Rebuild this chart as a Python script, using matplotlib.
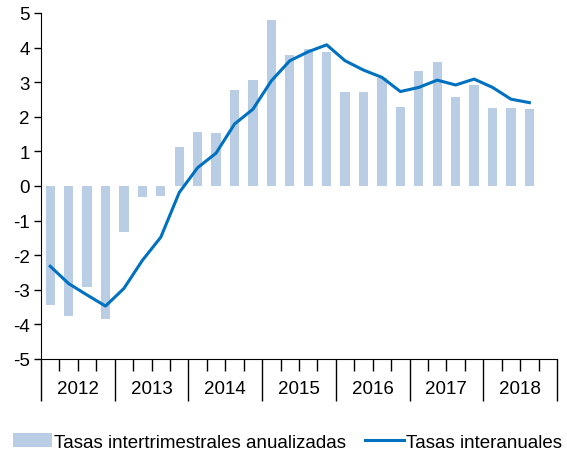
import numpy as np
import matplotlib
matplotlib.use("Agg")
import matplotlib.pyplot as plt
from matplotlib.ticker import MultipleLocator, NullFormatter
import matplotlib.transforms as mtransforms

plt.rcParams['font.family'] = ['Liberation Sans', 'DejaVu Sans']
plt.rcParams['axes.unicode_minus'] = False

# ------------------ datos ------------------
years = ["2012", "2013", "2014", "2015", "2016", "2017", "2018"]

# tasas intertrimestrales anualizadas (2012T1 - 2018T3)
quarterly = [-3.44, -3.75, -2.92, -3.84,
             -1.34, -0.33, -0.29, 1.14,
             1.57, 1.53, 2.78, 3.05,
             4.80, 3.80, 3.96, 3.88,
             2.73, 2.73, 3.11, 2.29,
             3.33, 3.57, 2.58, 2.92,
             2.26, 2.26, 2.22]

# tasas interanuales
annual = [-2.32, -2.82, -3.15, -3.47,
          -2.96, -2.15, -1.48, -0.19,
          0.53, 0.95, 1.79, 2.22,
          3.04, 3.62, 3.88, 4.08,
          3.62, 3.35, 3.14, 2.73,
          2.85, 3.06, 2.92, 3.09,
          2.85, 2.51, 2.41]

bar_color = "#B9CDE5"
line_color = "#0070C0"
fs = 13.5

# ------------------ gráfico ------------------
fig = plt.figure(figsize=(5.67, 4.60), dpi=100)
ax = fig.add_axes([41 / 567, 1 - 360 / 460, 516 / 567, 346 / 460])

x = np.arange(len(quarterly)) + 0.5
bars = ax.bar(x, quarterly, width=0.5, color=bar_color)
line, = ax.plot(x, annual, color=line_color, lw=2.2)

n_q = len(years) * 4
ax.set_xlim(0, n_q)
ax.set_ylim(-5, 5)
ax.yaxis.set_major_locator(MultipleLocator(1))

for s in ["top", "right"]:
    ax.spines[s].set_visible(False)

ax.xaxis.set_major_locator(MultipleLocator(4))
ax.xaxis.set_minor_locator(MultipleLocator(1))
ax.xaxis.set_major_formatter(NullFormatter())
ax.tick_params(axis="x", which="major", length=30, width=1.0, direction="out")
ax.tick_params(axis="x", which="minor", length=8.6, width=1.0, direction="out")
ax.tick_params(axis="y", length=5, width=1.0, labelsize=fs, pad=3)

trans = mtransforms.blended_transform_factory(ax.transData, ax.transAxes)
for i, yr in enumerate(years):
    ax.annotate(yr, xy=(i * 4 + 2, 0), xycoords=trans, xytext=(0, -21.5),
                textcoords="offset points", ha="center", va="center", fontsize=fs)

fig.legend([bars, line], ["Tasas intertrimestrales anualizadas", "Tasas interanuales"],
           loc="center", bbox_to_anchor=(0.507, 1 - 443 / 460), ncol=2, frameon=False,
           fontsize=fs, handlelength=2.1, handletextpad=0.1, columnspacing=1.0,
           borderaxespad=0)

fig.savefig("out.png", dpi=100)
